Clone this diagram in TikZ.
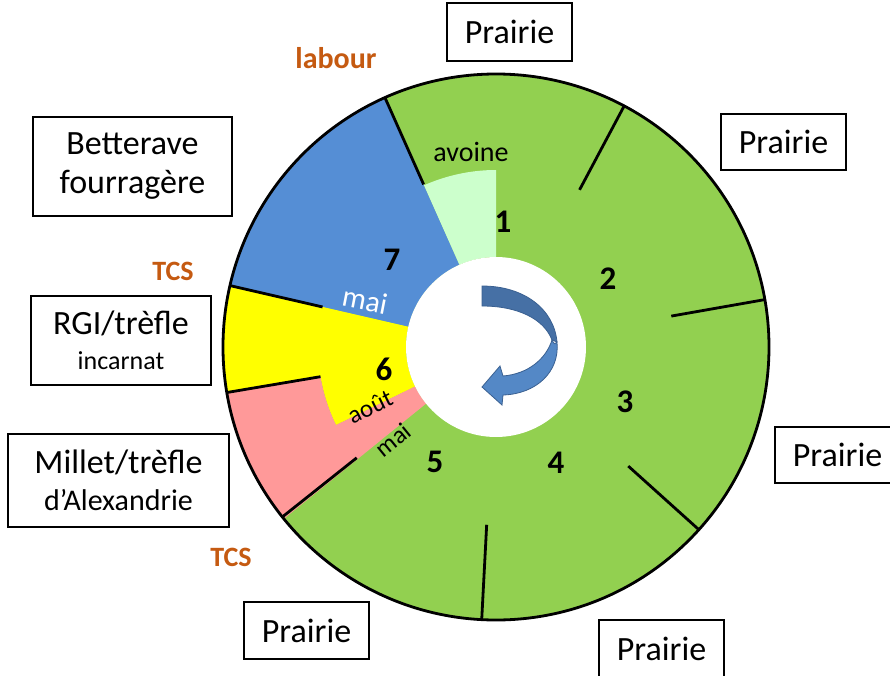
\documentclass[tikz,border=0pt]{standalone}
\usepackage{fontspec}
\setmainfont{Carlito}
\definecolor{grn}{RGB}{146,208,80}
\definecolor{lgrn}{RGB}{204,255,204}
\definecolor{blu}{RGB}{85,142,213}
\definecolor{yel}{RGB}{255,255,0}
\definecolor{pnk}{RGB}{255,153,153}
\definecolor{orng}{RGB}{197,90,17}
\definecolor{arrdark}{RGB}{70,112,165}
\definecolor{arrlight}{RGB}{84,136,198}
\definecolor{arredge}{RGB}{58,96,145}
\begin{document}
\begin{tikzpicture}[x=1pt,y=1pt,
  box/.style={draw=black, line width=1.4pt, fill=white, inner sep=0pt, align=center, font=\fontsize{34}{39}\selectfont},
  num/.style={font=\fontsize{33}{33}\selectfont\bfseries, inner sep=0pt},
  lbl/.style={font=\fontsize{28}{28}\selectfont, inner sep=0pt},
  tcslabel/.style={text=orng, font=\fontsize{28}{28}\selectfont\bfseries, inner sep=0pt},
  sepline/.style={line width=2.8pt, black}]
\useasboundingbox (-496,-328) rectangle (394,347);
% disc
\fill[grn] (0,0) circle (273pt);
\fill[blu] (114:90pt) -- (114:273pt) arc[start angle=114,end angle=167,radius=273pt] -- (167:90pt) arc[start angle=167,end angle=114,radius=90pt] -- cycle;
\fill[yel] (167:90pt) -- (167:273pt) arc[start angle=167,end angle=189.6,radius=273pt] -- (189.6:178pt) arc[start angle=189.6,end angle=206,radius=178pt] -- (206:90pt) arc[start angle=206,end angle=167,radius=90pt] -- cycle;
\fill[pnk] (189.6:178pt) -- (189.6:273pt) arc[start angle=189.6,end angle=219,radius=273pt] -- (219:90pt) arc[start angle=219,end angle=206,radius=90pt] -- (206:178pt) arc[start angle=206,end angle=189.6,radius=178pt] -- cycle;
\fill[lgrn] (90:90pt) -- (90:177pt) arc[start angle=90,end angle=114,radius=177pt] -- (114:90pt) arc[start angle=114,end angle=90,radius=90pt] -- cycle;
\fill[white] (0,0) circle (90pt);
\draw[line width=2.8pt] (0,0) circle (273pt);
\foreach \a in {114,62,10,-42,-93,218.5,189.6,167}
  \draw[sepline] (\a:178pt) -- (\a:273pt);
% curved arrow
\filldraw[fill=arrdark, draw=arredge, line width=0.8pt]
  (-14,61) .. controls (28,61) and (58,38) .. (61,5)
  -- (56,7) .. controls (48,28) and (22,41) .. (-14,41) -- cycle;
\filldraw[fill=arrlight, draw=arredge, line width=0.8pt]
  (56,7) .. controls (58,2) and (60,3) .. (61,5)
  .. controls (64,-25) and (40,-47) .. (7,-48)
  -- (6,-58) -- (-14,-40) -- (4,-19) -- (7,-29)
  .. controls (32,-27) and (50,-12) .. (56,7) -- cycle;
% numbers
\node[num] (n1) at (7,125) {1};
\node[num] (n2) at (112,68) {2};
\node[num] (n3) at (129,-55) {3};
\node[num] (n4) at (60,-116) {4};
\node[num] (n5) at (-61,-115) {5};
\node[num] (n6) at (-112,-22) {6};
\node[num] (n7) at (-104,87) {7};
% inner labels
\node[lbl] (avoine) at (-25,195) {avoine};
\node[lbl, font=\fontsize{30}{30}\selectfont, text=white, rotate=-11] (mai1) at (-131,47) {mai};
\node[lbl, font=\fontsize{25}{25}\selectfont, rotate=26] (aout) at (-126,-60) {août};
\node[lbl, font=\fontsize{25}{25}\selectfont, rotate=39] (mai2) at (-103,-93) {mai};
% orange labels
\node[tcslabel, font=\fontsize{30}{30}\selectfont\bfseries] (labour) at (-160,289) {labour};
\node[tcslabel] (tcs1) at (-323,76) {TCS};
\node[tcslabel] (tcs2) at (-265,-210) {TCS};
% boxes
\node[box, minimum width=125pt, minimum height=58pt] (p1) at (13.5,315) {Prairie};
\node[box, minimum width=125pt, minimum height=56pt] (p2) at (287.5,205) {Prairie};
\node[box, minimum width=125pt, minimum height=56pt] (p3) at (341.5,-108) {Prairie};
\node[box, minimum width=125pt, minimum height=57pt] (p4) at (165.5,-301.5) {Prairie};
\node[box, minimum width=125pt, minimum height=57pt] (p5) at (-189.5,-283.5) {Prairie};
\node[box, minimum width=199pt, minimum height=99pt] (bet) at (-363.5,180.5) {Betterave\\fourragère};
\node[box, minimum width=180pt, minimum height=89pt] (rgi) at (-375,6.5) {RGI/trèfle\\[-4pt]{\fontsize{26}{30}\selectfont incarnat}};
\node[box, minimum width=221pt, minimum height=93pt] (mil) at (-377.5,-133.5) {Millet/trèfle\\[-2pt]{\fontsize{30}{34}\selectfont d’Alexandrie}};
\end{tikzpicture}
\end{document}
